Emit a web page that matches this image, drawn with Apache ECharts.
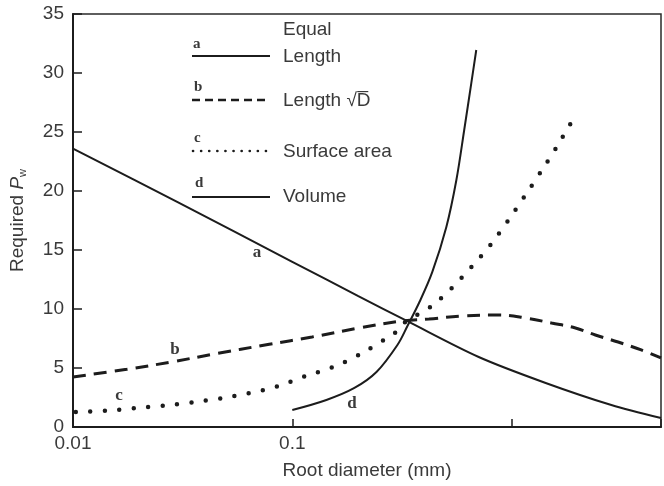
<!DOCTYPE html>
<html>
<head>
<meta charset="utf-8">
<script src="https://cdn.jsdelivr.net/npm/echarts@6/dist/echarts.min.js"></script>
<style>html,body{margin:0;padding:0;background:#fff;}#c{width:664px;height:486px;}</style>
</head>
<body>
<div id="c"></div>
<script>
// ---- data ----
const xLabels = ['0.01', '0.1'];
const yTicks = [0, 5, 10, 15, 20, 25, 30, 35];

// a: equal length
const aX = [0.01, 0.03, 0.1, 0.2, 0.34, 0.708, 1.43, 2.85, 4.8];
const aY = [23.6, 19.05, 14.0, 11.1, 8.9, 5.93, 3.73, 1.86, 0.76];
// b: equal length * sqrt(D)
const bX = [0.01, 0.0176, 0.0285, 0.0433, 0.0785, 0.123, 0.202, 0.316, 0.42, 0.593, 0.873, 1.158, 1.52, 1.955, 2.41, 3.06, 3.9, 4.8];
const bY = [4.24, 4.89, 5.53, 6.16, 7.01, 7.63, 8.39, 8.98, 9.15, 9.41, 9.49, 9.24, 8.81, 8.39, 7.8, 7.2, 6.53, 5.85];
// c: equal surface area
const cX = [0.0103, 0.0138, 0.0187, 0.0251, 0.034, 0.0461, 0.0631, 0.0846, 0.112, 0.149, 0.196, 0.257, 0.294, 0.333, 0.42, 0.528, 0.651, 0.786, 0.948, 1.122, 1.313, 1.552, 1.815, 1.97];
const cY = [1.28, 1.36, 1.58, 1.78, 2.06, 2.40, 2.86, 3.42, 4.24, 5.0, 6.0, 7.29, 7.97, 9.0, 10.08, 11.7, 13.5, 15.25, 17.3, 19.3, 21.2, 23.3, 25.4, 26.5];
// d: equal volume
const dX = [0.1, 0.143, 0.192, 0.242, 0.3015, 0.335, 0.38, 0.435, 0.504, 0.56, 0.608, 0.655, 0.69];
const dY = [1.44, 2.29, 3.31, 4.66, 6.95, 8.56, 10.59, 13.14, 16.95, 20.93, 25.17, 29.15, 31.95];

const pairs = (xs, ys) => xs.map((x, i) => [x, ys[i]]);

const INK = '#1c1c1c';
const TXT = '#3a3a3a';
const SANS = '"Liberation Sans", Arial, sans-serif';
const SERIF = '"Liberation Serif", "Times New Roman", serif';

const chart = echarts.init(document.getElementById('c'), null, {renderer: 'canvas'});

function txt(x, y, s, font, align) {
  return {type: 'text', x: x, y: y, silent: true, z: 10,
    style: {text: s, font: font, fill: TXT, align: align || 'left', verticalAlign: 'middle'}};
}
function seg(x1, x2, y, dash, w, cap) {
  return {type: 'line', silent: true, z: 10,
    shape: {x1: x1, y1: y, x2: x2, y2: y},
    style: {stroke: INK, lineWidth: w, lineDash: dash || null, lineCap: cap || 'butt'}};
}

chart.setOption({
  backgroundColor: '#fff',
  animation: false,
  grid: {left: 73, right: 1, top: 14, bottom: 59, show: true, borderColor: '#2a2a2a', borderWidth: 1.5, backgroundColor: 'transparent'},
  xAxis: {
    type: 'log', logBase: 10, min: 0.01, max: 4.8,
    axisLine: {show: true, lineStyle: {color: INK, width: 2}},
    axisTick: {show: true, inside: true, length: 8, lineStyle: {color: INK, width: 1.5}},
    splitLine: {show: false},
    minorTick: {show: false},
    axisLabel: {
      color: TXT, fontFamily: SANS, fontSize: 19, margin: 7,
      formatter: function (v) {
        const lv = Math.log10(v);
        for (const s of xLabels) { if (Math.abs(lv - Math.log10(parseFloat(s))) < 1e-6) return s; }
        return '';
      }
    },
    name: 'Root diameter (mm)', nameLocation: 'middle', nameGap: 34,
    nameTextStyle: {color: TXT, fontFamily: SANS, fontSize: 19}
  },
  yAxis: {
    type: 'value', min: yTicks[0], max: yTicks[yTicks.length - 1], interval: 5,
    axisLine: {show: true, lineStyle: {color: INK, width: 2}},
    axisTick: {show: true, inside: true, length: 9, lineStyle: {color: INK, width: 1.5}},
    splitLine: {show: false},
    axisLabel: {color: TXT, fontFamily: SANS, fontSize: 19, margin: 9},
    name: 'Required {i|P}{s|w}', nameLocation: 'middle', nameGap: 45, nameRotate: 90,
    nameTextStyle: {color: TXT, fontFamily: SANS, fontSize: 19,
      rich: {
        i: {fontStyle: 'italic', fontFamily: SANS, fontSize: 19, color: TXT},
        s: {fontFamily: SANS, fontSize: 11, color: TXT, verticalAlign: 'bottom', padding: [9, 0, 0, 0]}
      }}
  },
  series: [
    {name: 'a', type: 'line', data: pairs(aX, aY), showSymbol: false, smooth: 0.3,
      lineStyle: {color: INK, width: 2}},
    {name: 'b', type: 'line', data: pairs(bX, bY), showSymbol: false, smooth: 0.4,
      lineStyle: {color: INK, width: 3, type: [13, 8]}},
    {name: 'c', type: 'line', data: pairs(cX, cY), showSymbol: false, smooth: 0.4,
      lineStyle: {color: INK, width: 4.5, type: [0, 14.5], cap: 'round'}},
    {name: 'd', type: 'line', data: pairs(dX, dY), showSymbol: false, smooth: 0.35,
      lineStyle: {color: INK, width: 2}}
  ],
  graphic: [
    txt(283, 30, 'Equal', '19px ' + SANS),
    txt(193, 44, 'a', 'bold 15px ' + SERIF),
    seg(192, 270, 56, null, 2),
    txt(283, 57, 'Length', '19px ' + SANS),
    txt(194, 87, 'b', 'bold 15px ' + SERIF),
    seg(192, 270, 100, [8, 5], 2.5),
    txt(283, 101, 'Length \u221AD\u0305', '19px ' + SANS),
    txt(194, 138, 'c', 'bold 15px ' + SERIF),
    seg(193, 270, 151, [0.1, 8], 2.6, 'round'),
    txt(283, 152, 'Surface area', '19px ' + SANS),
    txt(195, 183, 'd', 'bold 15px ' + SERIF),
    seg(192, 270, 197, null, 2),
    txt(283, 197, 'Volume', '19px ' + SANS),
    txt(257, 253, 'a', 'bold 17px ' + SERIF, 'center'),
    txt(175, 350, 'b', 'bold 17px ' + SERIF, 'center'),
    txt(119, 396, 'c', 'bold 17px ' + SERIF, 'center'),
    txt(352, 404, 'd', 'bold 17px ' + SERIF, 'center')
  ]
});
</script>
</body>
</html>
